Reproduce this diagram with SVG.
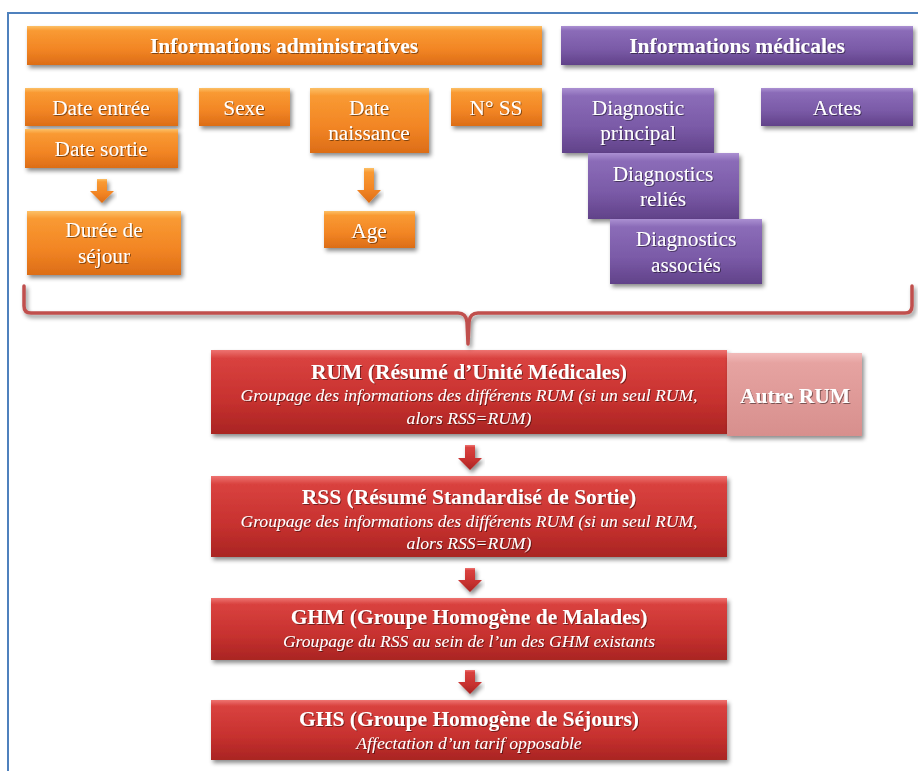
<svg xmlns="http://www.w3.org/2000/svg" width="918" height="771" viewBox="0 0 918 771">
  <defs>
    <linearGradient id="gOrange" x1="0" y1="0" x2="0" y2="1">
      <stop offset="0" stop-color="#fcc067"/>
      <stop offset="0.12" stop-color="#f99a33"/>
      <stop offset="0.6" stop-color="#f28524"/>
      <stop offset="1" stop-color="#dc6d17"/>
    </linearGradient>
    <linearGradient id="gPurple" x1="0" y1="0" x2="0" y2="1">
      <stop offset="0" stop-color="#ab90d2"/>
      <stop offset="0.12" stop-color="#8b6cb8"/>
      <stop offset="0.6" stop-color="#7a5aa7"/>
      <stop offset="1" stop-color="#614289"/>
    </linearGradient>
    <linearGradient id="gRed" x1="0" y1="0" x2="0" y2="1">
      <stop offset="0" stop-color="#ee7471"/>
      <stop offset="0.1" stop-color="#d9423f"/>
      <stop offset="0.6" stop-color="#c7312f"/>
      <stop offset="1" stop-color="#a92523"/>
    </linearGradient>
    <linearGradient id="gPink" x1="0" y1="0" x2="0" y2="1">
      <stop offset="0" stop-color="#f2bcbb"/>
      <stop offset="0.12" stop-color="#e6a3a1"/>
      <stop offset="1" stop-color="#d78f8d"/>
    </linearGradient>
    <filter id="shadow" x="-10%" y="-20%" width="120%" height="150%">
      <feDropShadow dx="2" dy="3" stdDeviation="2" flood-color="#000" flood-opacity="0.45"/>
    </filter>
    <filter id="tshadow" x="-5%" y="-20%" width="110%" height="150%">
      <feDropShadow dx="1" dy="1" stdDeviation="0.6" flood-color="#000" flood-opacity="0.45"/>
    </filter>
    <style>
      .o { fill: url(#gOrange); filter: url(#shadow); }
      .p { fill: url(#gPurple); filter: url(#shadow); }
      .r { fill: url(#gRed); filter: url(#shadow); }
      .k { fill: url(#gPink); filter: url(#shadow); }
      text { font-family: "Liberation Serif", "Times New Roman", serif; fill: #ffffff; text-anchor: middle; filter: url(#tshadow); }
      .hd { font-size: 21.5px; font-weight: bold; }
      .lb { font-size: 21.3px; }
      .tt { font-size: 21.5px; font-weight: bold; }
      .it { font-size: 17.6px; font-style: italic; }
      .arO { fill: url(#gOrange); filter: url(#shadow); }
      .arR { fill: url(#gRed); filter: url(#shadow); }
      .brace { fill: none; stroke: #c0504d; stroke-width: 3.5; stroke-linecap: round; stroke-linejoin: round; filter: url(#shadow); }
    </style>
  </defs>

  <rect width="918" height="771" fill="#ffffff"/>
  <!-- frame -->
  <rect x="8" y="13" width="930" height="800" fill="none" stroke="#4f81bd" stroke-width="2"/>

  <!-- headers -->
  <g id="hdr-admin">
    <rect class="o" x="27" y="26" width="515" height="39"/>
    <text class="hd" x="284" y="53">Informations administratives</text>
  </g>
  <g id="hdr-med">
    <rect class="p" x="561" y="26" width="352" height="39"/>
    <text class="hd" x="737" y="53">Informations médicales</text>
  </g>

  <!-- administrative items -->
  <g id="date-entree">
    <rect class="o" x="25" y="88" width="153" height="38"/>
    <text class="lb" x="101" y="115">Date entrée</text>
  </g>
  <g id="date-sortie">
    <rect class="o" x="25" y="129" width="153" height="39"/>
    <text class="lb" x="101" y="156">Date sortie</text>
  </g>
  <g id="sexe">
    <rect class="o" x="199" y="88" width="91" height="38"/>
    <text class="lb" x="244" y="115">Sexe</text>
  </g>
  <g id="date-naissance">
    <rect class="o" x="310" y="88" width="119" height="65"/>
    <text class="lb" x="369" y="115">Date</text>
    <text class="lb" x="369" y="140">naissance</text>
  </g>
  <g id="num-ss">
    <rect class="o" x="451" y="88" width="91" height="38"/>
    <text class="lb" x="496" y="115">N° SS</text>
  </g>
  <g id="duree-sejour">
    <rect class="o" x="27" y="211" width="154" height="64"/>
    <text class="lb" x="104" y="237">Durée de</text>
    <text class="lb" x="104" y="263">séjour</text>
  </g>
  <g id="age">
    <rect class="o" x="324" y="211" width="91" height="37"/>
    <text class="lb" x="369" y="238">Age</text>
  </g>

  <!-- medical items -->
  <g id="diag-principal">
    <rect class="p" x="562" y="88" width="152" height="65"/>
    <text class="lb" x="638" y="115">Diagnostic</text>
    <text class="lb" x="638" y="140">principal</text>
  </g>
  <g id="actes">
    <rect class="p" x="761" y="88" width="152" height="38"/>
    <text class="lb" x="837" y="115">Actes</text>
  </g>
  <g id="diag-relies">
    <rect class="p" x="588" y="153" width="151" height="66"/>
    <text class="lb" x="663" y="181">Diagnostics</text>
    <text class="lb" x="663" y="206">reliés</text>
  </g>
  <g id="diag-associes">
    <rect class="p" x="610" y="219" width="152" height="65"/>
    <text class="lb" x="686" y="246">Diagnostics</text>
    <text class="lb" x="686" y="272">associés</text>
  </g>

  <!-- chain of summaries -->
  <g id="rum">
    <rect class="r" x="211" y="350" width="516" height="84"/>
    <text class="tt" x="469" y="379">RUM (Résumé d’Unité Médicales)</text>
    <text class="it" x="469" y="401">Groupage des informations des différents RUM (si un seul RUM,</text>
    <text class="it" x="469" y="424">alors RSS=RUM)</text>
  </g>
  <g id="autre-rum">
    <rect class="k" x="727" y="353" width="135" height="83"/>
    <text class="tt" x="795" y="403">Autre RUM</text>
  </g>
  <g id="rss">
    <rect class="r" x="211" y="476" width="516" height="81"/>
    <text class="tt" x="469" y="504">RSS (Résumé Standardisé de Sortie)</text>
    <text class="it" x="469" y="527">Groupage des informations des différents RUM (si un seul RUM,</text>
    <text class="it" x="469" y="549">alors RSS=RUM)</text>
  </g>
  <g id="ghm">
    <rect class="r" x="211" y="598" width="516" height="62"/>
    <text class="tt" x="469" y="624">GHM (Groupe Homogène de Malades)</text>
    <text class="it" x="469" y="647">Groupage du RSS au sein de l’un des GHM existants</text>
  </g>
  <g id="ghs">
    <rect class="r" x="211" y="700" width="516" height="60"/>
    <text class="tt" x="469" y="726">GHS (Groupe Homogène de Séjours)</text>
    <text class="it" x="469" y="749">Affectation d’un tarif opposable</text>
  </g>

  <!-- connectors -->
  <g id="connectors">
    <path class="arO" d="M97 179 H107 V191 H114 L102 203 L90 191 H97 Z"/>
    <path class="arO" d="M364 168 H374 V190 H381 L369 203 L357 190 H364 Z"/>
    <path class="brace" d="M24 286 V306 Q24 313 31 313 H458 Q466 313 467 322 L468 344 L469 322 Q470 313 478 313 H905 Q912 313 912 306 V286"/>
    <path class="arR" d="M465 445 H475 V458 H482 L470 470 L458 458 H465 Z"/>
    <path class="arR" d="M465 568 H475 V580 H482 L470 592 L458 580 H465 Z"/>
    <path class="arR" d="M465 670 H475 V682 H482 L470 694 L458 682 H465 Z"/>
  </g>
</svg>
